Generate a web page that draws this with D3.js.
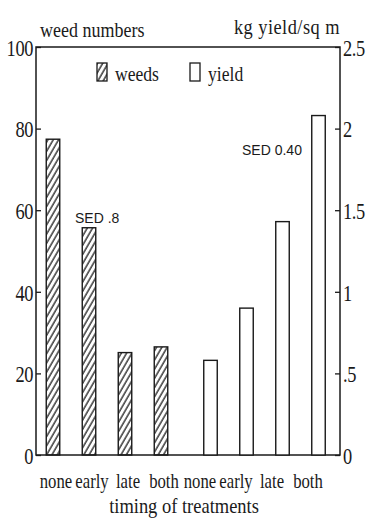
<!DOCTYPE html>
<html>
<head>
<meta charset="utf-8">
<script src="https://cdn.jsdelivr.net/npm/d3@7"></script>
<style>
  body { margin: 0; background: #fff; }
  text { fill: #1a1a1a; }
</style>
</head>
<body>
<div id="chart"></div>
<script>
// data
var treatments = ["none", "early", "late", "both"];
var weedValues = [77.4, 55.7, 25.1, 26.5];
var yieldValues = [0.58, 0.90, 1.43, 2.08];
var leftTicks = [0, 20, 40, 60, 80, 100];
var rightTicks = [0, 0.5, 1, 1.5, 2, 2.5];
var rightTickLabels = ["0", ".5", "1", "1.5", "2", "2.5"];

var chart_width = 368;
var chart_height = 529;
var plotLeft = 36, plotRight = 340, plotTop = 47, plotBottom = 455;
var ink = "#1a1a1a";
var serif = "'Liberation Serif', 'DejaVu Serif', serif";
var sans = "'Liberation Sans', Arial, sans-serif";
var squeeze = 0.8;

var svg = d3.select('#chart')
    .append('svg')
    .attr('width', chart_width)
    .attr('height', chart_height);

// hatch for weeds
svg.append('defs').append('pattern')
    .attr('id', 'hatch')
    .attr('patternUnits', 'userSpaceOnUse')
    .attr('width', 4.6)
    .attr('height', 10)
    .attr('patternTransform', 'rotate(30)')
    .append('line')
    .attr('x1', 1).attr('y1', 0)
    .attr('x2', 1).attr('y2', 10)
    .attr('stroke', ink)
    .attr('stroke-width', 1.3);

var slots = treatments.map(function (t) { return "w_" + t; })
    .concat(treatments.map(function (t) { return "y_" + t; }));

var x = d3.scaleBand().domain(slots).range([35, 323]);
var yLeft = d3.scaleLinear().domain([0, 100]).range([plotBottom, plotTop]);
var yRight = d3.scaleLinear().domain([0, 2.5]).range([plotBottom, plotTop]);
var barW = 13.5;
var groupGap = 13.5;

// frame
svg.append('rect')
    .attr('x', plotLeft).attr('y', plotTop)
    .attr('width', plotRight - plotLeft).attr('height', plotBottom - plotTop)
    .attr('fill', 'none')
    .attr('stroke', ink)
    .attr('stroke-width', 1.5);

// axes with inward ticks
var axL = svg.append('g')
    .attr('transform', 'translate(' + plotLeft + ',0)')
    .call(d3.axisLeft(yLeft).tickValues(leftTicks).tickSize(-5));
var axR = svg.append('g')
    .attr('transform', 'translate(' + plotRight + ',0)')
    .call(d3.axisRight(yRight).tickValues(rightTicks).tickSize(-5)
        .tickFormat(function (d, i) { return rightTickLabels[i]; }));

[axL, axR].forEach(function (g) {
    g.select('.domain').remove();
    g.selectAll('line').attr('stroke', ink).attr('stroke-width', 1.3);
    g.selectAll('text')
        .attr('font-family', serif)
        .attr('font-size', 23)
        .attr('fill', ink)
        .attr('dy', '0.36em')
        .attr('letter-spacing', -0.5)
        .attr('transform', 'scale(' + squeeze + ',1)');
});
axL.selectAll('text').attr('x', -3 / squeeze);
axR.selectAll('text').attr('x', 3 / squeeze);

// bars
svg.append('g').selectAll('rect')
    .data(weedValues)
    .enter().append('rect')
    .attr('x', function (d, i) { return x("w_" + treatments[i]) + x.bandwidth() / 2 - barW / 2; })
    .attr('y', function (d) { return yLeft(d); })
    .attr('width', barW)
    .attr('height', function (d) { return yLeft(0) - yLeft(d); })
    .attr('fill', 'url(#hatch)')
    .attr('stroke', ink)
    .attr('stroke-width', 1.4);

svg.append('g').selectAll('rect')
    .data(yieldValues)
    .enter().append('rect')
    .attr('x', function (d, i) { return x("y_" + treatments[i]) + x.bandwidth() / 2 - barW / 2 + groupGap; })
    .attr('y', function (d) { return yRight(d); })
    .attr('width', barW)
    .attr('height', function (d) { return yRight(0) - yRight(d); })
    .attr('fill', '#fff')
    .attr('stroke', ink)
    .attr('stroke-width', 1.4);

// category labels
svg.append('g').selectAll('text')
    .data(slots)
    .enter().append('text')
    .attr('transform', function (d) {
        return 'translate(' + (x(d) + x.bandwidth() / 2 + 3) + ',488) scale(0.76,1)';
    })
    .attr('text-anchor', 'middle')
    .attr('font-family', serif)
    .attr('font-size', 22)
    .text(function (d) { return d.slice(2); });

// titles
svg.append('text')
    .text('weed numbers')
    .attr('transform', 'translate(40,37) scale(0.9,1)')
    .attr('font-family', serif).attr('font-size', 20);

svg.append('text')
    .text('kg yield/sq m')
    .attr('transform', 'translate(340,34) scale(0.92,1)')
    .attr('text-anchor', 'end')
    .attr('font-family', serif).attr('font-size', 20)
    .attr('letter-spacing', 0.5);

svg.append('text')
    .text('timing of treatments')
    .attr('transform', 'translate(184,513) scale(0.88,1)')
    .attr('text-anchor', 'middle')
    .attr('font-family', serif).attr('font-size', 21);

// legend
var legend = [
    { label: 'weeds', fill: 'url(#hatch)', bx: 97 },
    { label: 'yield', fill: '#fff', bx: 190 }
];
legend.forEach(function (l) {
    svg.append('rect')
        .attr('x', l.bx).attr('y', 63)
        .attr('width', 10).attr('height', 18)
        .attr('fill', l.fill)
        .attr('stroke', ink)
        .attr('stroke-width', 1.3);
    svg.append('text')
        .text(l.label)
        .attr('transform', 'translate(' + (l.bx + 18) + ',81) scale(0.88,1)')
        .attr('font-family', serif).attr('font-size', 20);
});

// SED annotations
svg.append('text')
    .text('SED .8')
    .attr('x', 75).attr('y', 223)
    .attr('font-family', sans).attr('font-size', 14);

svg.append('text')
    .text('SED 0.40')
    .attr('x', 242).attr('y', 155)
    .attr('font-family', sans).attr('font-size', 14);
</script>
</body>
</html>
